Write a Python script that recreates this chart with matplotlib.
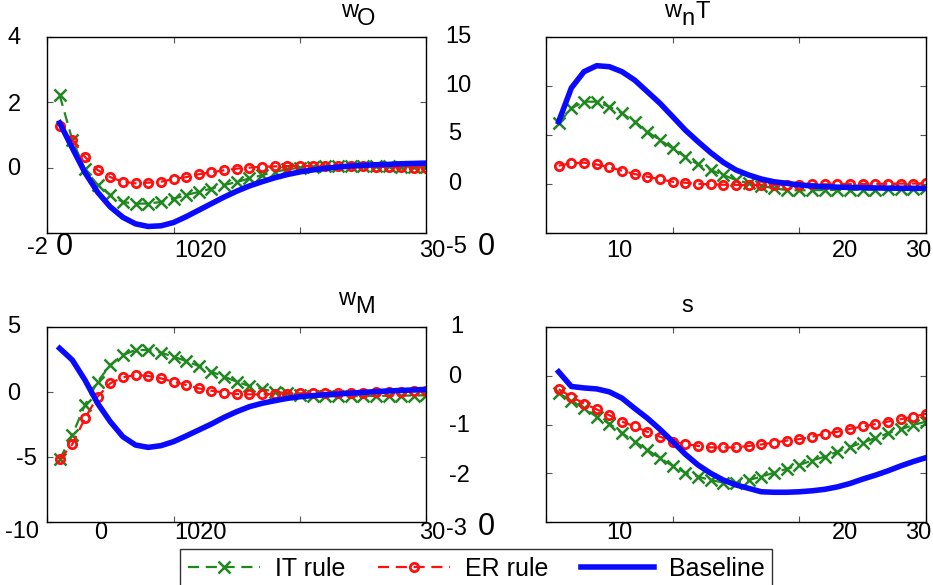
import numpy as np
import matplotlib
matplotlib.use("Agg")
import matplotlib.pyplot as plt

plt.rcParams['font.family'] = ['Liberation Sans', 'DejaVu Sans']

t = np.arange(1, 31)

# wO panel
wo_it = [2.22, 0.85, -0.05, -0.53, -0.84, -1.05, -1.1, -1.1, -1.05, -0.95,
         -0.84, -0.74, -0.64, -0.53, -0.44, -0.33, -0.23, -0.13, -0.05, 0.0,
         0.03, 0.04, 0.05, 0.05, 0.05, 0.04, 0.04, 0.03, 0.03, 0.02]
wo_er = [1.28, 0.85, 0.33, -0.07, -0.29, -0.43, -0.48, -0.46, -0.43, -0.35,
         -0.29, -0.2, -0.14, -0.08, -0.03, 0.0, 0.03, 0.04, 0.05, 0.05,
         0.05, 0.05, 0.05, 0.04, 0.04, 0.03, 0.02, 0.01, 0.0, 0.0]
wo_base = [1.37, 0.6, -0.15, -0.75, -1.2, -1.52, -1.72, -1.8, -1.78, -1.68,
           -1.5, -1.3, -1.1, -0.9, -0.72, -0.56, -0.43, -0.31, -0.21, -0.13,
           -0.07, -0.02, 0.02, 0.05, 0.07, 0.09, 0.1, 0.12, 0.13, 0.14]

# wnT panel
wnt_it = [6.2, 7.72, 8.4, 8.4, 7.89, 7.21, 6.36, 5.34, 4.49, 3.64,
          2.79, 2.0, 1.43, 0.92, 0.41, 0.07, -0.17, -0.44, -0.61, -0.65,
          -0.63, -0.62, -0.6, -0.6, -0.58, -0.57, -0.55, -0.52, -0.48, -0.44]
wnt_er = [1.87, 2.11, 2.18, 2.0, 1.7, 1.36, 1.02, 0.75, 0.48, 0.23,
          0.13, 0.0, -0.03, -0.08, -0.1, -0.1, -0.1, -0.1, -0.08, -0.06,
          -0.05, -0.03, -0.02, 0.0, 0.01, 0.02, 0.03, 0.04, 0.05, 0.07]
wnt_base = [6.36, 9.8, 11.46, 12.07, 11.97, 11.46, 10.6, 9.42, 8.23, 6.87,
            5.5, 4.32, 3.2, 2.21, 1.43, 0.92, 0.51, 0.23, 0.07, -0.1,
            -0.2, -0.27, -0.32, -0.35, -0.38, -0.4, -0.42, -0.43, -0.44, -0.44]

# wM panel
wm_it = [-5.18, -3.31, -1.0, 0.79, 2.08, 2.85, 3.23, 3.23, 3.03, 2.72,
         2.38, 2.0, 1.56, 1.18, 0.79, 0.46, 0.23, 0.03, -0.1, -0.23,
         -0.3, -0.33, -0.33, -0.32, -0.31, -0.3, -0.29, -0.28, -0.27, -0.25]
wm_er = [-5.18, -4.02, -2.02, -0.36, 0.67, 1.13, 1.31, 1.23, 1.05, 0.79,
         0.54, 0.28, 0.1, -0.05, -0.15, -0.18, -0.18, -0.16, -0.13, -0.1,
         -0.08, -0.07, -0.06, -0.05, -0.05, -0.03, -0.01, 0.02, 0.06, 0.1]
wm_base = [3.36, 2.46, 0.92, -0.87, -2.28, -3.44, -4.08, -4.26, -4.13, -3.82,
           -3.38, -2.92, -2.46, -1.95, -1.51, -1.13, -0.87, -0.67, -0.49, -0.36,
           -0.28, -0.21, -0.15, -0.09, -0.03, 0.03, 0.08, 0.12, 0.16, 0.2]

# s panel
s_it = [-0.36, -0.51, -0.67, -0.84, -0.98, -1.18, -1.35, -1.52, -1.69, -1.85,
        -1.99, -2.07, -2.14, -2.19, -2.2, -2.14, -2.07, -1.99, -1.91, -1.83,
        -1.74, -1.66, -1.56, -1.46, -1.37, -1.28, -1.18, -1.1, -1.01, -0.94]
s_er = [-0.28, -0.43, -0.57, -0.69, -0.81, -0.94, -1.04, -1.15, -1.25, -1.35,
        -1.4, -1.44, -1.47, -1.47, -1.47, -1.44, -1.41, -1.37, -1.33, -1.3,
        -1.25, -1.19, -1.15, -1.09, -1.04, -0.99, -0.94, -0.89, -0.84, -0.78]
s_base = [0.08, -0.22, -0.25, -0.27, -0.33, -0.46, -0.67, -0.87, -1.1, -1.35,
          -1.61, -1.83, -2.0, -2.14, -2.24, -2.31, -2.38, -2.39, -2.39, -2.38,
          -2.36, -2.33, -2.28, -2.21, -2.12, -2.04, -1.95, -1.85, -1.76, -1.68]

panels = [
    (wo_it, wo_er, wo_base, (-2, 4), [-2, 0, 2, 4]),
    (wnt_it, wnt_er, wnt_base, (-5, 15), [-5, 0, 5, 10, 15]),
    (wm_it, wm_er, wm_base, (-10, 5), [-10, -5, 0, 5]),
    (s_it, s_er, s_base, (-3, 1), [-3, -2, -1, 0, 1]),
]

W, H = 933, 585
fig = plt.figure(figsize=(W / 100, H / 100), dpi=100)

boxes = [(47, 37, 426.5, 233), (546, 37, 926, 233),
         (47, 327, 426.5, 522), (546, 327, 926, 522)]

green = '#1e881e'
red = '#ff1010'
blue = '#0a0aff'

handles = None
for (it, er, base, ylim, yt), (x0, y0, x1, y1) in zip(panels, boxes):
    ax = fig.add_axes([x0 / W, 1 - y1 / H, (x1 - x0) / W, (y1 - y0) / H])
    h1, = ax.plot(t, it, color=green, ls=(0, (5, 3)), lw=1.6, marker='x',
                  ms=9, mew=1.8, label='IT rule')
    h2, = ax.plot(t, er, color=red, ls=(0, (5, 3)), lw=1.6, marker='o',
                  ms=6, mew=2, mfc='none', label='ER rule')
    h3, = ax.plot(t, base, color=blue, lw=4, label='Baseline', zorder=3)
    handles = [h1, h2, h3]
    ax.set_xlim(0, 30)
    ax.set_ylim(*ylim)
    ax.set_xticks([0, 10, 20, 30])
    ax.set_yticks(yt)
    ax.tick_params(direction='in', length=4, width=0.8, top=True, right=True,
                   labelbottom=False, labelleft=False, colors='#555555')
    for sp in ax.spines.values():
        sp.set_color('black')
        sp.set_linewidth(1.0)


def txt(x, y, s, size=17, ha='center'):
    fig.text(x / W, 1 - y / H, s, ha=ha, va='baseline', fontsize=size)


# misplaced tick labels as they appear in the exported figure
big = 22
labels_top = [(14, 44, '4'), (14, 111, '2'), (14, 175, '0'), (37, 254, '-2'),
              (200, 257, '1020'), (432, 257, '30'), (456, 253, '-5'),
              (458, 43, '15'), (458, 92, '10'), (455, 140, '5'), (455, 190, '0'),
              (619, 257, '10'), (845, 257, '20'), (918, 257, '30')]
labels_bot = [(14, 333, '5'), (14, 400, '0'), (26, 465, '-5'), (22, 538, '-10'),
              (101, 539, '0'), (200, 539, '1020'), (432, 539, '30'), (456, 535, '-3'),
              (457, 333, '1'), (455, 383, '0'), (459, 432, '-1'), (459, 482, '-2'),
              (619, 539, '10'), (845, 539, '20'), (918, 539, '30')]
for x, y, s in labels_top + labels_bot:
    txt(x, y, s)
for x, y in [(64.5, 255), (486, 255), (486, 535)]:
    txt(x, y, '0', size=big)

# titles
txt(341, 17, 'w', ha='left'); txt(357, 25, 'O', ha='left')
txt(664, 17, 'w', ha='left'); txt(681, 25, 'n', ha='left'); txt(695, 18, 'T', ha='left')
txt(338, 305, 'w', ha='left'); txt(355, 313, 'M', ha='left')
txt(687, 312, 's')

leg = fig.legend(handles=handles, loc='upper left', ncol=3,
                 bbox_to_anchor=(180 / W, 1 - 549 / H), fontsize=18,
                 frameon=True, fancybox=False, edgecolor='black',
                 handlelength=2.9, handletextpad=0.6, columnspacing=1.3,
                 borderpad=0.3, borderaxespad=0, numpoints=1)
leg.get_frame().set_linewidth(1.0)

fig.savefig('out.png', dpi=100)
